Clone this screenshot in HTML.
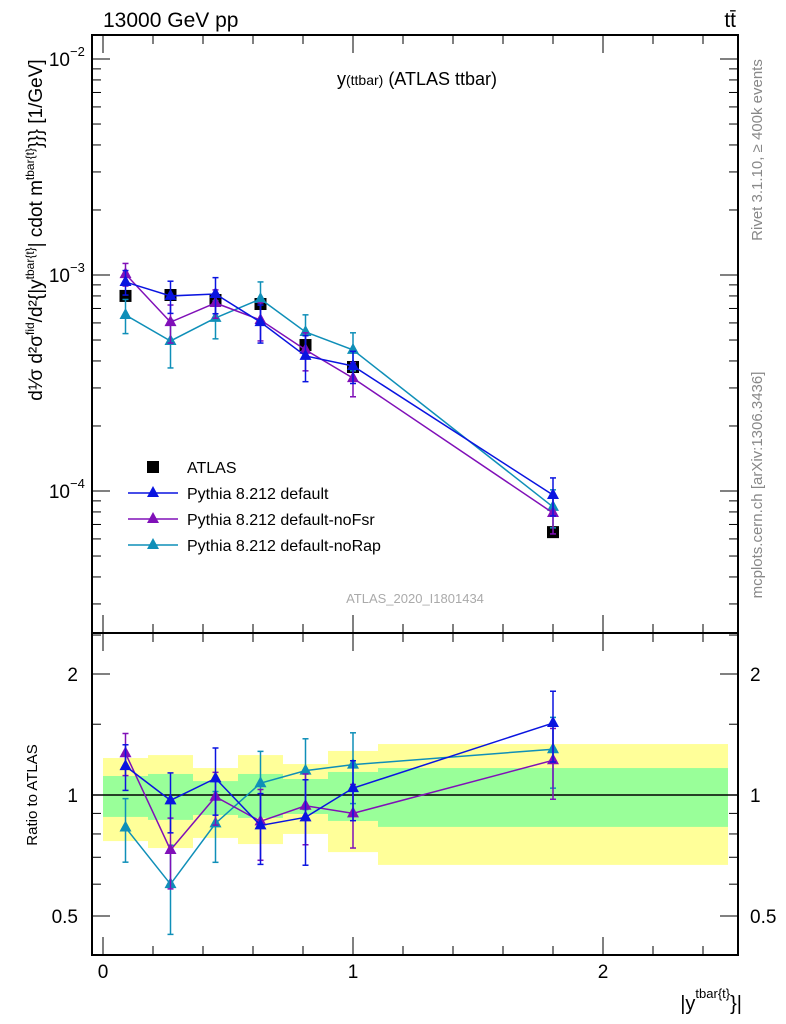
<!DOCTYPE html>
<html><head><meta charset="utf-8"><style>
body{margin:0;background:#fff;}
svg{display:block;font-family:"Liberation Sans",sans-serif;}
</style></head><body>
<svg id="chart" width="786" height="1024" viewBox="0 0 786 1024">
<rect width="786" height="1024" fill="#fff"/>
<g id="ratioBands"></g>
<g id="grid"></g>
<g id="series"></g>
<rect x="92" y="35" width="646" height="598" fill="none" stroke="#000" stroke-width="2"/>
<rect x="92" y="633" width="646" height="322" fill="none" stroke="#000" stroke-width="2"/>
<text x="103" y="27" font-size="21">13000 GeV pp</text>
<text x="736" y="27" font-size="21" text-anchor="end">tt̄</text>
<text x="417" y="85" font-size="18" text-anchor="middle">y<tspan font-size="14">(ttbar)</tspan> (ATLAS ttbar)</text>
<text x="415" y="603" font-size="13" fill="#aaa" text-anchor="middle">ATLAS_2020_I1801434</text>
<text transform="translate(762,150) rotate(-90)" font-size="15" fill="#888" text-anchor="middle">Rivet 3.1.10, ≥ 400k events</text>
<text transform="translate(762,485) rotate(-90)" font-size="15" fill="#888" text-anchor="middle">mcplots.cern.ch [arXiv:1306.3436]</text>
<text transform="translate(42,230) rotate(-90)" font-size="19" text-anchor="middle">d¹⁄σ d²σ<tspan font-size="12" dy="-8">fid</tspan><tspan dy="8">/d²{|y</tspan><tspan font-size="12" dy="-8">tbar{t}</tspan><tspan dy="8">| cdot m</tspan><tspan font-size="12" dy="-8">tbar{t}</tspan><tspan dy="8">}}} [1/GeV]</tspan></text>
<text transform="translate(37,795) rotate(-90)" font-size="15" text-anchor="middle">Ratio to ATLAS</text>
<text x="742" y="1010" font-size="20" text-anchor="end">|y<tspan font-size="13" dy="-12">tbar{t}</tspan><tspan dy="12">}|</tspan></text>
<g id="legend"></g>
</svg>
<script>
const binEdges=[0,0.18,0.36,0.54,0.72,0.9,1.1,2.5];
const binCenters=[0.09,0.27,0.45,0.63,0.81,1.0,1.8];
const atlasVals=[8.0e-4,8.08e-4,7.66e-4,7.34e-4,4.74e-4,3.75e-4,6.45e-5];
const defaultVals=[9.28e-4,8.0e-4,8.17e-4,6.05e-4,4.22e-4,3.79e-4,9.58e-5];
const noFsrVals=[1.01e-3,6.05e-4,7.42e-4,6.19e-4,4.50e-4,3.33e-4,7.91e-5];
const noRapVals=[6.53e-4,4.95e-4,6.33e-4,7.74e-4,5.45e-4,4.50e-4,8.44e-5];
const defaultErr=[0.13,0.17,0.19,0.2,0.24,0.17,0.2];
const noFsrErr=[0.12,0.2,0.15,0.2,0.2,0.18,0.2];
const noRapErr=[0.18,0.25,0.2,0.2,0.2,0.2,0.2];
const defaultRatio=[1.18,0.97,1.10,0.84,0.88,1.04,1.51];
const noFsrRatio=[1.27,0.73,0.99,0.86,0.94,0.90,1.22];
const noRapRatio=[0.83,0.60,0.85,1.07,1.15,1.19,1.30];
const yellowHi=[1.236,1.257,1.167,1.257,1.194,1.287,1.339];
const yellowLo=[0.768,0.738,0.782,0.755,0.800,0.721,0.670];
const greenHi=[1.115,1.128,1.083,1.128,1.096,1.141,1.167];
const greenLo=[0.882,0.867,0.892,0.877,0.897,0.862,0.833];
const xTickLabels=["0","1","2"];
const ratioTickLabels=["0.5","1","2"];

const NS="http://www.w3.org/2000/svg";
const xS=v=>103+250*v;
const yM=v=>275-216*(Math.log10(v)+3);
const yR=v=>795-121*Math.log2(v);
function mk(parent,tag,attrs){const e=document.createElementNS(NS,tag);for(const k in attrs)e.setAttribute(k,attrs[k]);document.getElementById(parent).appendChild(e);return e;}

// bands
for(let i=0;i<binCenters.length;i++){
  const x0=xS(binEdges[i]),x1=xS(binEdges[i+1]);
  let r=mk('ratioBands','rect',{x:x0,y:yR(yellowHi[i]),width:x1-x0,height:yR(yellowLo[i])-yR(yellowHi[i]),fill:'#ffff99'});
  
  
  let g=mk('ratioBands','rect',{x:x0,y:yR(greenHi[i]),width:x1-x0,height:yR(greenLo[i])-yR(greenHi[i]),fill:'#99ff99'});
  
  
}
mk('grid','line',{x1:92,x2:738,y1:yR(1),y2:yR(1),stroke:'#000','stroke-width':1.5});

// main y ticks
for(let d=-5;d<=-2;d++){
  for(let m=1;m<10;m++){
    const v=m*Math.pow(10,d); const y=yM(v);
    if(y<35||y>633)continue;
    const L=m===1?18:9;
    mk('grid','line',{x1:92,x2:92+L,y1:y,y2:y,stroke:'#000','stroke-width':1});
    mk('grid','line',{x1:738-L,x2:738,y1:y,y2:y,stroke:'#000','stroke-width':1});
    if(m===1){
      const t=mk('grid','text',{x:70,y:y+7,'font-size':19,'text-anchor':'end'});
      t.textContent='10';
      
      
      const s=mk('grid','text',{x:70,y:y-3,'font-size':13});
      s.textContent='−'+(-d);
    }
  }
}
// ratio ticks
const rt=[0.4,0.5,0.6,0.7,0.8,0.9,1,1.5,2,2.5];
rt.forEach(v=>{const y=yR(v);if(y<633||y>955)return;const maj=(v===0.5||v===1||v===2);const L=maj?18:9;
  mk('grid','line',{x1:92,x2:92+L,y1:y,y2:y,stroke:'#000'});
  mk('grid','line',{x1:738-L,x2:738,y1:y,y2:y,stroke:'#000'});});
[0.5,1,2].forEach((v,i)=>{
  const a=mk('grid','text',{x:78,y:yR(v)+7,'font-size':19,'text-anchor':'end'});a.textContent=ratioTickLabels[i];
  
  
  const b=mk('grid','text',{x:750,y:yR(v)+7,'font-size':19});b.textContent=ratioTickLabels[i];
  
  
});
// x ticks
for(let k=0;k<=12;k++){const v=k*0.2;const x=xS(v);if(x>738)continue;const maj=(k%5===0);const L=maj?18:9;
  [[633,-1],[955,-1],[35,1],[633,1]].forEach(([y0,dir])=>mk('grid','line',{x1:x,x2:x,y1:y0,y2:y0+dir*L,stroke:'#000'}));
}
[0,1,2].forEach((v,i)=>{const t=mk('grid','text',{x:xS(v),y:978,'font-size':19,'text-anchor':'middle'});t.textContent=xTickLabels[i];
  
  });

function tri(parent,x,y,c){return mk(parent,'polygon',{points:`${x},${y-7} ${x-6},${y+4} ${x+6},${y+4}`,fill:c});}
function drawSeries(vals,err,ratio,color,name){
  let pts=[],rpts=[];
  vals.forEach((v,i)=>{pts.push(xS(binCenters[i])+','+yM(v));rpts.push(xS(binCenters[i])+','+yR(ratio[i]));});
  const l=mk('series','polyline',{points:pts.join(' '),fill:'none',stroke:color,'stroke-width':1.5});
  
  
  const rl=mk('series','polyline',{points:rpts.join(' '),fill:'none',stroke:color,'stroke-width':1.5});
  
  
  vals.forEach((v,i)=>{
    const x=xS(binCenters[i]);
    [[yM(v*(1+err[i])),yM(v*(1-err[i]))],[yR(ratio[i]*(1+err[i])),yR(ratio[i]*(1-err[i]))]].forEach(([a,b])=>{
      mk('series','line',{x1:x,x2:x,y1:a,y2:b,stroke:color,'stroke-width':1.5});
      mk('series','line',{x1:x-3,x2:x+3,y1:a,y2:a,stroke:color,'stroke-width':1.5});
      mk('series','line',{x1:x-3,x2:x+3,y1:b,y2:b,stroke:color,'stroke-width':1.5});
    });
    const p=tri('series',x,yM(v),color);
    
    
    const q=tri('series',x,yR(ratio[i]),color);
    
    
  });
}
atlasVals.forEach((v,i)=>{const r=mk('series','rect',{x:xS(binCenters[i])-6,y:yM(v)-6,width:12,height:12,fill:'#000'});
  
  });
drawSeries(noRapVals,noRapErr,noRapRatio,'#0f8fb8','norap');
drawSeries(noFsrVals,noFsrErr,noFsrRatio,'#8010b8','nofsr');
drawSeries(defaultVals,defaultErr,defaultRatio,'#0a14e0','default');

// legend
const legNames=['ATLAS','Pythia 8.212 default','Pythia 8.212 default-noFsr','Pythia 8.212 default-noRap'];
const legCols=['#000','#0a14e0','#8010b8','#0f8fb8'];
legNames.forEach((n,i)=>{
  const y=467+26*i;
  if(i===0){mk('legend','rect',{x:147,y:y-6,width:12,height:12,fill:'#000'});}
  else{mk('legend','line',{x1:128,x2:178,y1:y,y2:y,stroke:legCols[i],'stroke-width':1.5});tri('legend',153,y,legCols[i]);}
  const t=mk('legend','text',{x:187,y:y+6,'font-size':16});t.textContent=n;
  
  
});
</script>
</body></html>
